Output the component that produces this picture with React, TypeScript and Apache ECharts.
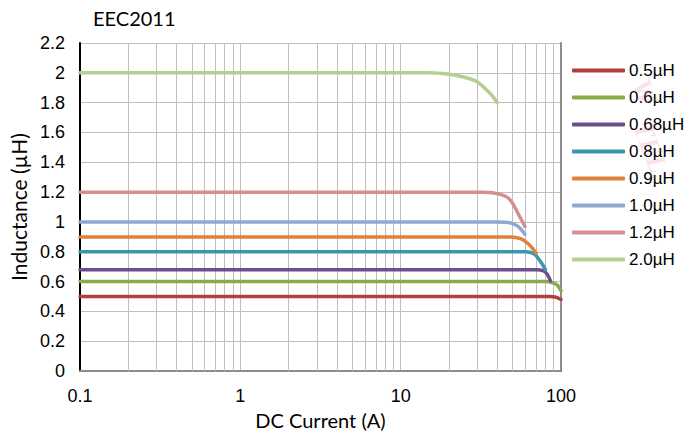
import React, { useEffect, useRef } from "react";
import * as echarts from "echarts";

const seriesNames = ["0.5µH", "0.6µH", "0.68µH", "0.8µH", "0.9µH", "1.0µH", "1.2µH", "2.0µH"];
const seriesColors = ["#AE403D", "#8BAA48", "#6B4F8A", "#3A97AE", "#E0803A", "#8EA8D2", "#D68F8E", "#B3CF91"];

const x05 = [0.1, 85, 92, 100];
const y05 = [0.5, 0.5, 0.497, 0.48];
const x06 = [0.1, 80, 90, 95, 100];
const y06 = [0.6, 0.6, 0.59, 0.575, 0.54];
const x068 = [0.1, 70, 78, 82, 86];
const y068 = [0.68, 0.68, 0.672, 0.65, 0.605];
const x08 = [0.1, 60, 68, 74, 80];
const y08 = [0.8, 0.8, 0.785, 0.74, 0.68];
const x09 = [0.1, 48, 56, 63, 70];
const y09 = [0.9, 0.9, 0.888, 0.85, 0.79];
const x10 = [0.1, 40, 48, 54, 59.5];
const y10 = [1.0, 1.0, 0.995, 0.97, 0.917];
const x12 = [0.1, 33, 42, 48, 55, 59.6];
const y12 = [1.2, 1.2, 1.185, 1.15, 1.04, 0.97];
const x20 = [0.1, 15, 20, 25, 30, 34, 37, 40];
const y20 = [2.0, 2.0, 1.99, 1.97, 1.94, 1.89, 1.85, 1.8];

const seriesX = [x05, x06, x068, x08, x09, x10, x12, x20];
const seriesY = [y05, y06, y068, y08, y09, y10, y12, y20];

const minorGridX = [0.2, 0.3, 0.4, 0.5, 0.6, 0.7, 0.8, 0.9, 2, 3, 4, 5, 6, 7, 8, 9, 20, 30, 40, 50, 60, 70, 80, 90];

const titleText = "EEC2011";
const xName = "DC Current (A)";
const yName = "Inductance (µH)";
const watermarkTexts = ["W", "TEL."];

export default function App() {
  const ref = useRef<HTMLDivElement>(null);
  useEffect(() => {
    if (!ref.current) return;
    const chart = echarts.init(ref.current, null, { renderer: "svg" });
    const tickFont = "'Liberation Sans', Arial, sans-serif";
    const titleFont = "Lato, 'Open Sans', sans-serif";
    const lines = seriesNames.map((name, i) => ({
      name,
      type: "line",
      xAxisIndex: 0,
      yAxisIndex: 0,
      data: seriesX[i].map((x, j) => [x, seriesY[i][j]]),
      symbol: "none",
      showSymbol: false,
      smooth: 0.35,
      z: 5,
      lineStyle: { color: seriesColors[i], width: 3.5, cap: "round" },
      itemStyle: { color: seriesColors[i] },
    }));
    chart.setOption({
      animation: false,
      backgroundColor: "#ffffff",
      title: {
        text: titleText,
        left: 93,
        top: 8,
        padding: 0,
        textStyle: { fontFamily: titleFont, fontSize: 20, fontWeight: "normal", color: "#000" },
      },
      grid: { left: 78, right: 125, top: 43, bottom: 62 },
      legend: {
        orient: "vertical",
        left: 572,
        top: 57,
        padding: 0,
        icon: "roundRect",
        itemWidth: 53,
        itemHeight: 4,
        itemGap: 0,
        data: seriesNames,
        textStyle: { fontFamily: tickFont, fontSize: 17, color: "#000", lineHeight: 27, padding: [0, 0, 0, -1] },
      },
      xAxis: [
        {
          type: "log",
          logBase: 10,
          min: 0.1,
          max: 100,
          position: "bottom",
          name: xName,
          nameLocation: "middle",
          nameGap: 36,
          nameTextStyle: { fontFamily: titleFont, fontSize: 20, color: "#000" },
          axisLine: { show: true, lineStyle: { color: "#000", width: 2 } },
          axisTick: { show: false },
          axisLabel: { fontFamily: tickFont, fontSize: 18, color: "#000", margin: 16 },
          splitLine: { show: true, lineStyle: { color: "#BFBFBF", width: 1 } },
          z: 4,
        },
        {
          type: "log",
          logBase: 10,
          min: 0.1,
          max: 100,
          position: "top",
          axisLine: { show: true, lineStyle: { color: "#8C8C8C", width: 2 } },
          axisTick: { show: false },
          axisLabel: { show: false },
          splitLine: { show: false },
          z: 4,
        },
      ],
      yAxis: [
        {
          type: "value",
          min: 0,
          max: 2.2,
          interval: 0.2,
          position: "left",
          name: yName,
          nameLocation: "middle",
          nameGap: 47,
          nameTextStyle: { fontFamily: titleFont, fontSize: 21, color: "#000" },
          axisLine: { show: true, lineStyle: { color: "#000", width: 2 } },
          axisTick: { show: false },
          axisLabel: { fontFamily: tickFont, fontSize: 18, color: "#000", margin: 15 },
          splitLine: { show: true, lineStyle: { color: "#BFBFBF", width: 1 } },
          z: 4,
        },
        {
          type: "value",
          min: 0,
          max: 2.2,
          interval: 0.2,
          position: "right",
          axisLine: { show: true, lineStyle: { color: "#8C8C8C", width: 2 } },
          axisTick: { show: false },
          axisLabel: { show: false },
          splitLine: { show: false },
          z: 4,
        },
      ],
      series: [
        {
          name: "grid-minor",
          type: "line",
          xAxisIndex: 0,
          yAxisIndex: 0,
          data: [],
          z: 1,
          silent: true,
          markLine: {
            silent: true,
            symbol: "none",
            label: { show: false },
            lineStyle: { color: "#BFBFBF", width: 1, type: "solid" },
            data: minorGridX.map((v) => ({ xAxis: v })),
          },
        },
        ...lines,
      ],
      graphic: [
        {
          type: "text",
          x: 645,
          y: 92,
          rotation: -1.2,
          silent: true,
          z: 10,
          style: {
            text: watermarkTexts[0],
            font: "italic bold 30px 'Liberation Serif', serif",
            fill: "rgba(225, 110, 140, 0.2)",
            align: "center",
            verticalAlign: "middle",
          },
        },
        {
          type: "text",
          x: 652,
          y: 150,
          rotation: -1.2,
          silent: true,
          z: 10,
          style: {
            text: watermarkTexts[1],
            font: "italic bold 28px 'Liberation Serif', serif",
            fill: "rgba(225, 110, 140, 0.2)",
            align: "center",
            verticalAlign: "middle",
          },
        },
      ],
    });
    return () => chart.dispose();
  }, []);
  return <div ref={ref} style={{ width: 686, height: 435, position: "absolute", left: 0, top: 0 }} />;
}
